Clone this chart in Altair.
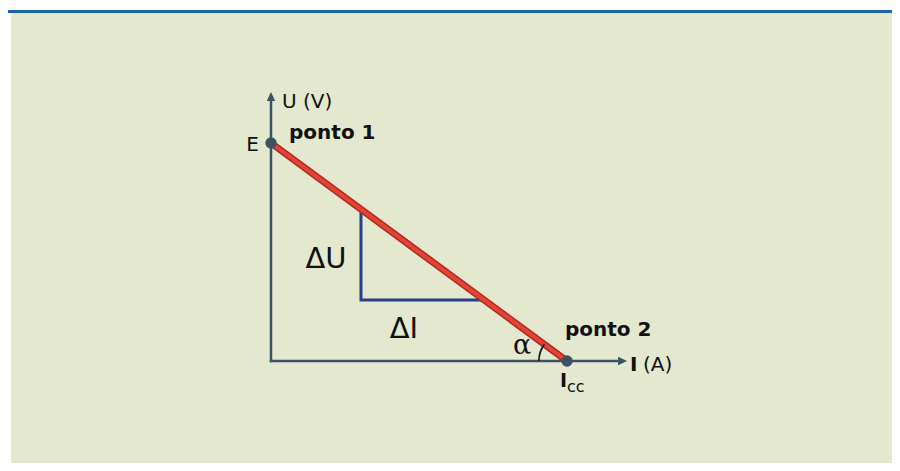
import altair as alt
import pandas as pd
import math

# ---------------- data ----------------
E_VOLT = 10.0          # U at ponto 1 (I = 0)
ICC_AMP = 10.0         # I at ponto 2 (U = 0)
U_AXIS_MAX = 12.34     # tip of U arrow
I_AXIS_MAX = 12.03     # tip of I arrow
TRI_I = [3.04, 3.04, 7.20]   # slope triangle (ΔU / ΔI)
TRI_U = [6.96, 2.80, 2.80]

LABELS_NORMAL = ["U (V)", "(A)"]
LABELS_NORMAL_X = [0.37, 12.57]
LABELS_NORMAL_Y = [11.60, -0.46]

LABELS_BOLD = ["ponto 1", "ponto 2", "I"]
LABELS_BOLD_X = [0.61, 9.93, 12.13]
LABELS_BOLD_Y = [10.18, 1.15, -0.46]

DELTA_LABELS = ["\u0394U", "\u0394I"]
DELTA_X = [1.86, 4.49]
DELTA_Y = [4.27, 1.06]

# ---------------- layout ----------------
W, H = 881, 450
PX_PER_A = 29.6
PX_PER_V = 21.8
ORIGIN_PX = (260, 348)
HEAD = 9  # arrow head length, px

x_dom = [-ORIGIN_PX[0] / PX_PER_A, (W - ORIGIN_PX[0]) / PX_PER_A]
y_dom = [-(H - ORIGIN_PX[1]) / PX_PER_V, ORIGIN_PX[1] / PX_PER_V]
xs = alt.Scale(domain=x_dom, nice=False, zero=False)
ys = alt.Scale(domain=y_dom, nice=False, zero=False)

def X(f="x"):
    return alt.X(f"{f}:Q", scale=xs, axis=None)

def Y(f="y"):
    return alt.Y(f"{f}:Q", scale=ys, axis=None)

AX_COL = "#3b5361"
FONT = "DejaVu Sans"

top_bar = alt.Chart(pd.DataFrame({"a": [0]})).mark_rule(
    color="#1b63ad", strokeWidth=3
).encode(x=alt.value(-3), x2=alt.value(W), y=alt.value(-1.5))

axes_df = pd.DataFrame({
    "x": [0.0, 0.0],
    "y": [0.0, 0.0],
    "x2": [0.0, I_AXIS_MAX - HEAD / PX_PER_A],
    "y2": [U_AXIS_MAX - HEAD / PX_PER_V, 0.0],
})
axes = alt.Chart(axes_df).mark_rule(color=AX_COL, strokeWidth=2.5, strokeCap="square").encode(
    x=X(), y=Y(), x2="x2:Q", y2="y2:Q")

up_head = alt.Chart(pd.DataFrame({"x": [0.0], "y": [U_AXIS_MAX]})).mark_point(
    shape="M0,0 L-0.47,1 L0.47,1 Z", size=(2 * HEAD) ** 2, filled=True, opacity=1,
    color=AX_COL, strokeWidth=0).encode(x=X(), y=Y())
right_head = alt.Chart(pd.DataFrame({"x": [I_AXIS_MAX], "y": [0.0]})).mark_point(
    shape="M0,0 L-1,-0.47 L-1,0.47 Z", size=(2 * HEAD) ** 2, filled=True, opacity=1,
    color=AX_COL, strokeWidth=0).encode(x=X(), y=Y())

tri_df = pd.DataFrame({"x": TRI_I, "y": TRI_U, "o": [0, 1, 2]})
tri = alt.Chart(tri_df).mark_line(color="#27408b", strokeWidth=3, strokeJoin="miter").encode(
    x=X(), y=Y(), order="o:Q")

line_df = pd.DataFrame({"x": [0.0], "y": [E_VOLT], "x2": [ICC_AMP], "y2": [0.0]})
red_outer = alt.Chart(line_df).mark_rule(color="#b8271f", strokeWidth=7).encode(
    x=X(), y=Y(), x2="x2:Q", y2="y2:Q")
red_inner = alt.Chart(line_df).mark_rule(color="#df4437", strokeWidth=4).encode(
    x=X(), y=Y(), x2="x2:Q", y2="y2:Q")

# angle alpha arc at ponto 2
ang = math.atan2(E_VOLT * PX_PER_V, ICC_AMP * PX_PER_A)
arc = alt.Chart(pd.DataFrame({"x": [ICC_AMP], "y": [0.0]})).mark_arc(
    radius=29, radius2=27.2, theta=1.5 * math.pi, theta2=1.5 * math.pi + ang,
    color="#1e1e1e").encode(x=X(), y=Y())

pts = alt.Chart(pd.DataFrame({"x": [0.0, ICC_AMP], "y": [E_VOLT, 0.0]})).mark_point(
    shape="circle", size=130, filled=True, opacity=1, color=AX_COL, strokeWidth=0
).encode(x=X(), y=Y())

def text_layer(texts, xv, yv, **kw):
    df = pd.DataFrame({"t": texts, "x": xv, "y": yv})
    base = dict(font=FONT, color="#111111", baseline="alphabetic", align="left")
    base.update(kw)
    return alt.Chart(df).mark_text(**base).encode(x=X(), y=Y(), text="t:N")

t_norm = text_layer(LABELS_NORMAL, LABELS_NORMAL_X, LABELS_NORMAL_Y, fontSize=20)
t_bold = text_layer(LABELS_BOLD, LABELS_BOLD_X, LABELS_BOLD_Y, fontSize=20, fontWeight="bold")
t_delta = text_layer(DELTA_LABELS, DELTA_X, DELTA_Y, fontSize=29, align="center")
t_e = text_layer(["E"], [-0.41], [9.63], fontSize=20, align="right")
t_alpha = text_layer(["\u03b1"], [8.48], [0.32], fontSize=27, align="center",
                     font="DejaVu Serif")
t_i = text_layer(["I"], [9.76], [-1.19], fontSize=19, fontWeight="bold")
t_cc = text_layer(["cc"], [10.0], [-1.42], fontSize=16)

chart = alt.layer(
    top_bar, axes, up_head, right_head, tri, red_outer, red_inner, arc, pts,
    t_norm, t_bold, t_delta, t_e, t_alpha, t_i, t_cc
).properties(
    width=W, height=H,
    padding={"left": 3, "top": 5, "right": 0, "bottom": 0},
    autosize=alt.AutoSizeParams(type="none"),
    background="white",
).configure_view(fill="#e3e8cf", stroke=None)

chart.save("out.html", embed_options={"renderer": "svg", "actions": False})
